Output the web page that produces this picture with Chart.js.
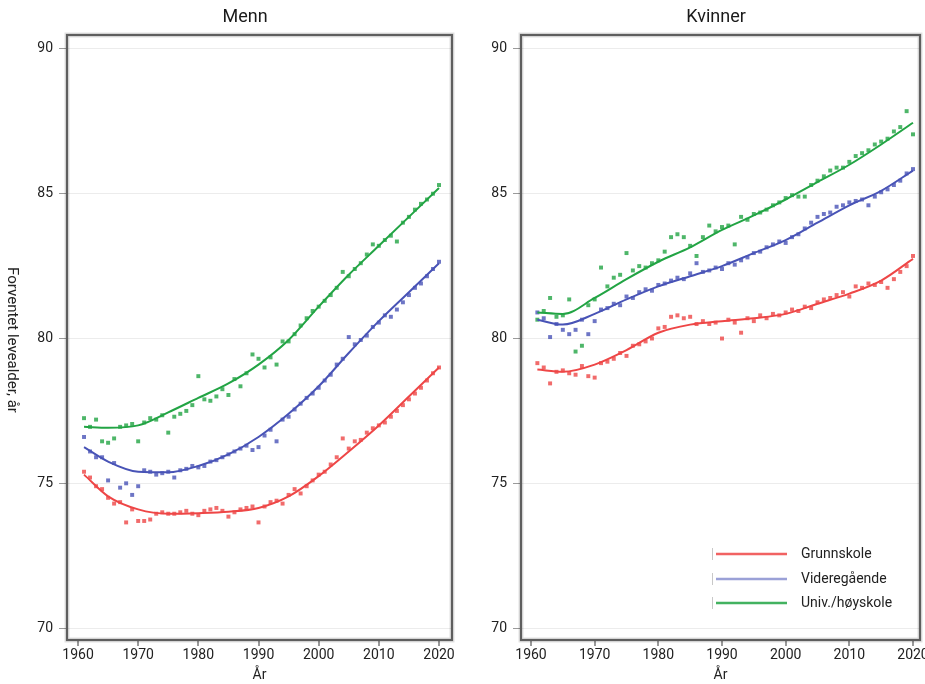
<!DOCTYPE html>
<html>
<head>
<meta charset="utf-8">
<script src="https://cdn.jsdelivr.net/npm/chart.js@4.4.1/dist/chart.umd.min.js"></script>
<style>
  body { margin: 0; background: #fff; }
  #wrap { position: relative; width: 925px; height: 684px; overflow: hidden; }
  #menn { position: absolute; left: 0; top: 0; }
  #kvinner { position: absolute; left: 470px; top: 0; }
</style>
</head>
<body>
<div id="wrap">
  <canvas id="menn" width="470" height="684" style="width:470px;height:684px"></canvas>
  <canvas id="kvinner" width="470" height="684" style="width:470px;height:684px"></canvas>
</div>
<script>
// categories
const years = [
  1961, 1962, 1963, 1964, 1965, 1966, 1967, 1968, 1969, 1970,
  1971, 1972, 1973, 1974, 1975, 1976, 1977, 1978, 1979, 1980,
  1981, 1982, 1983, 1984, 1985, 1986, 1987, 1988, 1989, 1990,
  1991, 1992, 1993, 1994, 1995, 1996, 1997, 1998, 1999, 2000,
  2001, 2002, 2003, 2004, 2005, 2006, 2007, 2008, 2009, 2010,
  2011, 2012, 2013, 2014, 2015, 2016, 2017, 2018, 2019, 2020
];
const fitYears = [1961, 1965, 1970, 1975, 1980, 1985, 1990, 1995, 2000, 2005, 2010, 2015, 2020];
const seriesLabels = ['Grunnskole', 'Videregående', 'Univ./høyskole'];
const xTicks = [1960, 1970, 1980, 1990, 2000, 2010, 2020];
const yTicks = [70, 75, 80, 85, 90];

// Menn - yearly estimates
const mennGrunn = [
  75.4, 75.2, 74.9, 74.8, 74.5, 74.3, 74.35, 73.65, 74.1, 73.7,
  73.7, 73.75, 73.95, 74.0, 73.95, 73.95, 74.0, 74.05, 73.95, 73.9,
  74.05, 74.1, 74.15, 74.05, 73.85, 74.0, 74.1, 74.15, 74.2, 73.65,
  74.2, 74.35, 74.4, 74.3, 74.6, 74.8, 74.65, 74.9, 75.1, 75.3,
  75.4, 75.65, 75.9, 76.55, 76.2, 76.45, 76.5, 76.75, 76.9, 77.0,
  77.1, 77.3, 77.5, 77.7, 77.9, 78.1, 78.3, 78.55, 78.8, 79.0
];
const mennVgs = [
  76.6, 76.1, 75.9, 75.9, 75.1, 75.7, 74.85, 75.0, 74.6, 74.9,
  75.45, 75.4, 75.3, 75.35, 75.4, 75.2, 75.45, 75.5, 75.6, 75.55,
  75.6, 75.75, 75.8, 75.9, 76.0, 76.1, 76.2, 76.3, 76.15, 76.25,
  76.65, 76.85, 76.45, 77.2, 77.3, 77.55, 77.75, 77.95, 78.1, 78.3,
  78.55, 78.75, 79.1, 79.3, 80.05, 79.8, 79.95, 80.1, 80.4, 80.55,
  80.8, 80.75, 81.0, 81.25, 81.5, 81.75, 81.9, 82.15, 82.4, 82.65
];
const mennUni = [
  77.25, 76.95, 77.2, 76.45, 76.4, 76.55, 76.95, 77.0, 77.05, 76.45,
  77.1, 77.25, 77.2, 77.35, 76.75, 77.3, 77.4, 77.5, 77.7, 78.7,
  77.9, 77.85, 78.0, 78.25, 78.05, 78.6, 78.35, 78.8, 79.45, 79.3,
  79.0, 79.35, 79.1, 79.9, 79.9, 80.15, 80.45, 80.7, 80.95, 81.1,
  81.3, 81.5, 81.75, 82.3, 82.15, 82.4, 82.6, 82.9, 83.25, 83.2,
  83.4, 83.55, 83.35, 84.0, 84.2, 84.45, 84.65, 84.8, 85.0, 85.3
];
// Menn - smoothed curves
const mennGrunnFit = [75.3, 74.55, 74.1, 73.95, 73.97, 74.02, 74.15, 74.55, 75.25, 76.1, 77.0, 78.0, 79.0];
const mennVgsFit = [76.25, 75.75, 75.4, 75.38, 75.6, 76.0, 76.6, 77.4, 78.35, 79.5, 80.6, 81.6, 82.6];
const mennUniFit = [76.95, 76.92, 77.0, 77.45, 77.95, 78.45, 79.1, 79.95, 81.1, 82.2, 83.2, 84.2, 85.2];

// Kvinner - yearly estimates
const kvGrunn = [
  79.15, 79.0, 78.45, 78.85, 78.9, 78.8, 78.75, 79.05, 78.7, 78.65,
  79.15, 79.2, 79.3, 79.5, 79.4, 79.75, 79.8, 79.9, 80.0, 80.35,
  80.4, 80.75, 80.8, 80.7, 80.75, 80.5, 80.6, 80.5, 80.55, 80.0,
  80.65, 80.55, 80.2, 80.7, 80.6, 80.8, 80.7, 80.85, 80.8, 80.9,
  81.0, 80.95, 81.1, 81.05, 81.25, 81.35, 81.4, 81.5, 81.6, 81.45,
  81.8, 81.75, 81.9, 81.85, 81.95, 81.75, 82.05, 82.3, 82.5, 82.85
];
const kvVgs = [
  80.9, 80.7, 80.05, 80.5, 80.3, 80.15, 80.3, 80.65, 80.15, 80.6,
  81.0, 81.05, 81.2, 81.15, 81.45, 81.4, 81.6, 81.7, 81.65, 81.85,
  81.9, 82.0, 82.1, 82.05, 82.25, 82.6, 82.3, 82.35, 82.45, 82.4,
  82.6, 82.55, 82.7, 82.8, 82.95, 83.0, 83.15, 83.25, 83.35, 83.3,
  83.5, 83.6, 83.8, 84.0, 84.2, 84.3, 84.35, 84.55, 84.6, 84.7,
  84.75, 84.8, 84.6, 84.9, 85.05, 85.15, 85.3, 85.45, 85.7, 85.85
];
const kvUni = [
  80.65, 80.95, 81.4, 80.75, 80.8, 81.35, 79.55, 79.75, 81.15, 81.35,
  82.45, 81.8, 82.1, 82.2, 82.95, 82.35, 82.5, 82.45, 82.6, 82.7,
  83.0, 83.5, 83.6, 83.5, 83.2, 82.85, 83.5, 83.9, 83.7, 83.85,
  83.9, 83.25, 84.2, 84.1, 84.3, 84.35, 84.45, 84.6, 84.7, 84.85,
  84.95, 84.9, 84.9, 85.3, 85.45, 85.6, 85.8, 85.9, 85.9, 86.1,
  86.3, 86.4, 86.5, 86.7, 86.8, 86.9, 87.15, 87.3, 87.85, 87.05
];
// Kvinner - smoothed curves
const kvGrunnFit = [78.93, 78.85, 79.1, 79.6, 80.2, 80.48, 80.6, 80.7, 80.85, 81.2, 81.55, 82.0, 82.75];
const kvVgsFit = [80.65, 80.48, 80.85, 81.35, 81.8, 82.15, 82.5, 82.95, 83.4, 84.0, 84.6, 85.1, 85.8];
const kvUniFit = [80.9, 80.85, 81.4, 82.05, 82.65, 83.15, 83.75, 84.25, 84.8, 85.4, 86.0, 86.7, 87.45];

const colors = ['#ee4646', '#4853b6', '#22a444'];
const pointColors = ['rgba(238,70,70,0.8)', 'rgba(72,83,182,0.8)', 'rgba(34,164,68,0.8)'];
const FONT = 'Roboto, "Open Sans", sans-serif';

const toXY = (xs, ys) => ys.map((v, i) => ({ x: xs[i], y: v }));

function buildDatasets(points, fits) {
  const lines = fits.map((f, i) => ({
    label: seriesLabels[i],
    data: toXY(fitYears, f),
    showLine: true,
    borderColor: colors[i],
    borderWidth: 2,
    pointRadius: 0,
    cubicInterpolationMode: 'monotone',
    fill: false
  }));
  const dots = points.map((p, i) => ({
    label: seriesLabels[i] + ' (år)',
    data: toXY(years, p),
    showLine: false,
    pointStyle: 'rect',
    pointRadius: 2.8,
    pointBorderWidth: 0,
    pointBackgroundColor: pointColors[i]
  }));
  return lines.concat(dots);
}

// frame, titles, rotated y title and legend
const decor = {
  id: 'decor',
  afterDraw(chart, args, opts) {
    const { ctx, chartArea: a } = chart;
    ctx.save();
    ctx.strokeStyle = 'rgba(0,0,0,0.12)';
    ctx.lineWidth = 5;
    ctx.strokeRect(a.left, a.top, a.width, a.height);
    ctx.strokeStyle = '#5e5e5e';
    ctx.lineWidth = 2.2;
    ctx.strokeRect(a.left, a.top, a.width, a.height);

    ctx.fillStyle = '#1a1a1a';
    ctx.textAlign = 'center';
    ctx.textBaseline = 'middle';
    ctx.font = '18px ' + FONT;
    ctx.fillText(opts.title, opts.titleX, 17);

    if (opts.yTitle) {
      ctx.save();
      ctx.translate(12, 340);
      ctx.rotate(Math.PI / 2);
      ctx.font = '15px ' + FONT;
      ctx.fillStyle = '#222';
      ctx.fillText(opts.yTitle, 0, 0);
      ctx.restore();
    }

    if (opts.legend) {
      const ly = [554, 579, 603];
      ctx.font = '14px ' + FONT;
      ctx.textAlign = 'left';
      for (let i = 0; i < 3; i++) {
        const ds = chart.data.datasets[i];
        ctx.strokeStyle = '#c8c8c8';
        ctx.lineWidth = 1;
        ctx.beginPath();
        ctx.moveTo(242.5, ly[i] - 6);
        ctx.lineTo(242.5, ly[i] + 6);
        ctx.stroke();
        ctx.strokeStyle = ds.borderColor;
        ctx.globalAlpha = i === 1 ? 0.55 : 0.85;
        ctx.lineWidth = 2.5;
        ctx.beginPath();
        ctx.moveTo(246, ly[i]);
        ctx.lineTo(317, ly[i]);
        ctx.stroke();
        ctx.globalAlpha = 1;
        ctx.fillStyle = '#222';
        ctx.fillText(ds.label, 331, ly[i]);
      }
    }
    ctx.restore();
  }
};

function makeChart(id, points, fits, cfg) {
  return new Chart(document.getElementById(id), {
    type: 'scatter',
    data: { datasets: buildDatasets(points, fits) },
    plugins: [decor],
    options: {
      responsive: false,
      animation: false,
      layout: { padding: { top: 35, right: cfg.padRight, left: 0, bottom: 0 } },
      plugins: {
        legend: { display: false },
        tooltip: { enabled: false },
        decor: cfg.decor
      },
      scales: {
        x: {
          type: 'linear',
          min: cfg.xMin,
          max: cfg.xMax,
          afterBuildTicks: (axis) => { axis.ticks = xTicks.map(v => ({ value: v })); },
          afterFit: (axis) => { axis.height = 44; },
          border: { display: false },
          grid: { drawOnChartArea: false, tickLength: 6, tickColor: '#9a9a9a', lineWidth: 2 },
          ticks: { color: '#222', font: { family: FONT, size: 14 }, padding: 1, maxRotation: 0, callback: v => String(v) },
          title: { display: true, text: 'År', color: '#222', font: { family: FONT, size: 14 }, padding: { top: -3, bottom: 0 } }
        },
        y: {
          min: 69.59,
          max: 90.48,
          afterBuildTicks: (axis) => { axis.ticks = yTicks.map(v => ({ value: v })); },
          afterFit: (axis) => { axis.width = cfg.yWidth; },
          border: { display: false },
          grid: { color: '#ececec', lineWidth: 1, tickLength: 8, tickColor: '#9a9a9a' },
          ticks: { color: '#222', font: { family: FONT, size: 14 }, padding: 6 }
        }
      }
    }
  });
}

makeChart('menn', [mennGrunn, mennVgs, mennUni], [mennGrunnFit, mennVgsFit, mennUniFit], {
  xMin: 1958.17, xMax: 2022.16, yWidth: 67, padRight: 18,
  decor: { title: 'Menn', titleX: 245, yTitle: 'Forventet levealder, år' }
});

makeChart('kvinner', [kvGrunn, kvVgs, kvUni], [kvGrunnFit, kvVgsFit, kvUniFit], {
  xMin: 1958.43, xMax: 2021.1, yWidth: 51, padRight: 20,
  decor: { title: 'Kvinner', titleX: 246, legend: true }
});
</script>
</body>
</html>
